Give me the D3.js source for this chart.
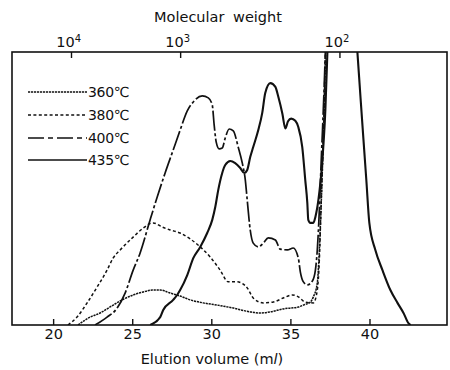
<!DOCTYPE html>
<html>
    <head>
        <meta charset="utf-8">
        <title>Elution curves</title>
        <script src="https://d3js.org/d3.v7.min.js" charset="utf-8"></script>
        <style>
            body { margin: 0; background: #fff; }
            text { font-family: "DejaVu Sans", sans-serif; fill: #111; }
        </style>
    </head>
    <body>
        <script>
            var width = 450;
            var height = 370;
            var margin = {top: 52, right: 3, bottom: 45, left: 12};

            // elution volume (ml), relative detector response (top of frame = 100)
            var s360 = [[21.58,0],[22.34,2.9],[22.97,4.4],[23.60,6.6],[24.36,9.2],[25.06,11.0],[25.69,12.1],
                [26.26,12.8],[26.77,12.8],[27.40,11.7],[28.03,10.6],[28.67,9.2],[29.49,8.1],[30.37,7.3],
                [31.39,6.2],[32.46,4.8],[33.10,4.4],[33.73,4.8],[34.55,5.9],[35.50,6.6],[35.82,7.3],
                [36.26,8.4],[36.45,10.3],[36.70,15.4],[36.80,24],[36.92,40],[37.08,67.8],[37.24,100],[37.45,135]];

            var s380 = [[20.94,0],[21.51,2.9],[22.15,8.1],[22.78,13.9],[23.41,20.1],[23.79,24.5],[24.24,27.5],
                [25.06,32.2],[25.69,35.5],[26.32,37.4],[26.89,35.9],[27.40,34.8],[28.03,33.7],[28.67,31.5],
                [29.30,28.6],[29.93,24.9],[30.56,20.1],[31.07,15.8],[31.64,15.8],[32.27,13.6],[32.65,9.9],
                [33.29,8.1],[33.92,8.4],[34.55,9.9],[35.12,11.0],[35.50,10.3],[35.94,8.4],[36.45,8.1],
                [36.70,12.8],[36.83,23.8],[36.95,45.8],[37.08,67.8],[37.21,100],[37.4,135]];

            var s400 = [[22.65,0],[23.41,2.9],[24.05,6.2],[24.55,11.7],[25.06,20.1],[25.50,26.4],[26.13,38.5],
                [26.58,46.9],[27.08,55.7],[27.59,64.1],[28.03,71.4],[28.48,78.4],[28.86,81.7],[29.43,83.9],
                [29.81,83.2],[30.06,80.6],[30.18,73.3],[30.31,67.0],[30.50,64.5],[30.69,64.8],[30.88,68.5],
                [31.13,71.8],[31.39,71.1],[31.70,65.2],[31.96,59.3],[32.15,53.1],[32.27,45.8],[32.46,34.8],
                [32.65,30.0],[32.97,28.6],[33.29,30.0],[33.60,31.9],[34.05,31.1],[34.36,27.8],[34.81,27.5],
                [35.18,28.2],[35.50,24.5],[35.63,19.4],[35.82,15.8],[36.07,14.7],[36.39,16.1],[36.58,20.1],
                [36.70,27.5],[36.83,42.1],[36.95,60.4],[37.08,78.8],[37.21,100],[37.4,135]];

            var s435 = [[26.13,0],[26.77,2.9],[26.96,5.5],[27.59,9.2],[27.84,11.0],[28.03,12.8],[28.48,18.3],
                [28.86,24.5],[29.30,28.6],[29.74,33.7],[30.06,38.5],[30.25,43.2],[30.44,49.5],[30.69,55.7],
                [30.88,58.6],[31.20,60.1],[31.51,59.3],[31.83,57.5],[32.08,55.7],[32.27,56.8],[32.46,61.5],
                [32.65,65.2],[32.97,71.4],[33.22,77.7],[33.41,85.0],[33.73,88.6],[34.05,87.2],[34.24,83.5],
                [34.49,77.5],[34.68,72.0],[34.85,74.6],[35.05,75.6],[35.31,74.8],[35.50,72.5],[35.75,65.2],[35.94,53.1],
                [36.07,44.7],[36.13,38.5],[36.26,37.4],[36.45,37.4],[36.58,39.6],[36.77,45.8],[37.02,60.4],
                [37.21,78.8],[37.34,100],[38.3,170],[39.24,99.6],[39.43,83.5],[39.62,67.8],[39.80,53.1],
                [39.99,37.4],[40.37,27.5],[40.82,20.1],[41.32,12.8],[41.77,8.1],[42.15,4.4],[42.46,0.7],[42.6,0]];

            var series = [
                {name: "360", values: s360, dash: "2.2,0.8", w: 1.5},
                {name: "380", values: s380, dash: "3,2.4", w: 1.5},
                {name: "400", values: s400, dash: "20,2.5,3,2.5", w: 1.7},
                {name: "435", values: s435, dash: null, w: 2.1}
            ];

            var volumeTicks = [20, 25, 30, 35, 40];
            var mwTicks = [1e4, 1e3, 1e2];
            var mwExponents = ["4", "3", "2"];
            var mwVolume = [21.13, 28.03, 38.1]; // calibration: elution volume of each MW

            var x = d3.scaleLinear()
                        .domain([17.4, 44.9])
                        .range([margin.left, width - margin.right]);

            var y = d3.scaleLinear()
                        .domain([0, 100])
                        .range([height - margin.bottom, margin.top]);

            var mw = d3.scaleLog()
                        .domain(mwTicks)
                        .range(mwVolume.map(function(v) { return x(v); }));

            var svg = d3.select("body").append("svg")
                        .attr("width", width)
                        .attr("height", height);

            svg.append("clipPath").attr("id", "plot")
                .append("rect")
                    .attr("x", x.range()[0])
                    .attr("y", y(100))
                    .attr("width", x.range()[1] - x.range()[0])
                    .attr("height", y(0) - y(100));

            var line = d3.line()
                        .x(function(d) { return x(d[0]); })
                        .y(function(d) { return y(d[1]); })
                        .curve(d3.curveMonotoneX);

            svg.append("g")
                .attr("clip-path", "url(#plot)")
                .selectAll("path")
                .data(series)
                .enter()
                .append("path")
                    .attr("fill", "none")
                    .attr("stroke", "#111")
                    .attr("stroke-width", function(d) { return d.w; })
                    .attr("stroke-dasharray", function(d) { return d.dash; })
                    .attr("d", function(d) { return line(d.values); });

            // frame
            svg.append("rect")
                .attr("x", x.range()[0])
                .attr("y", y(100))
                .attr("width", x.range()[1] - x.range()[0])
                .attr("height", y(0) - y(100))
                .attr("fill", "none")
                .attr("stroke", "#111")
                .attr("stroke-width", 1.6);

            svg.append("g")
                .attr("transform", "translate(0," + y(0) + ")")
                .call(d3.axisBottom(x).tickValues(volumeTicks).tickSizeInner(-6).tickSizeOuter(0).tickPadding(4));

            var topAxis = svg.append("g")
                .attr("transform", "translate(0," + y(100) + ")")
                .call(d3.axisTop(mw).tickValues(mwTicks).tickSizeInner(-6).tickSizeOuter(0).tickPadding(5)
                    .tickFormat(function() { return "10"; }));

            topAxis.selectAll(".tick text")
                .attr("dx", "-0.2em")
                .append("tspan")
                    .attr("dy", "-0.55em")
                    .style("font-size", "10px")
                    .text(function(d, i) { return mwExponents[i]; });

            svg.selectAll(".domain").remove();
            svg.selectAll(".tick line").attr("stroke", "#111").attr("stroke-width", 1.4);
            svg.selectAll(".tick text").style("font-family", "DejaVu Sans").style("font-size", "14.5px").attr("fill", "#111");

            svg.append("text")
                .attr("x", 218)
                .attr("y", 22)
                .attr("text-anchor", "middle")
                .style("font-size", "14.5px")
                .style("word-spacing", "4px")
                .text("Molecular weight");

            var xl = svg.append("text")
                .attr("x", 212)
                .attr("y", 364)
                .attr("text-anchor", "middle")
                .style("font-size", "14.5px");
            xl.append("tspan").text("Elution volume (m");
            xl.append("tspan").style("font-style", "italic").text("l");
            xl.append("tspan").text(")");

            // legend
            var legend = svg.selectAll("g.legend")
                .data(series)
                .enter()
                .append("g")
                    .attr("class", "legend")
                    .attr("transform", function(d, i) { return "translate(28," + [92, 115, 138, 160][i] + ")"; });

            legend.append("line")
                .attr("x1", 0).attr("x2", 59)
                .attr("stroke", "#111")
                .attr("stroke-width", function(d) { return Math.min(d.w, 1.6); })
                .attr("stroke-dasharray", function(d, i) { return i === 2 ? "16,4,5,4" : d.dash; });

            legend.append("text")
                .attr("x", 60)
                .attr("dy", "0.36em")
                .style("font-size", "14px")
                .style("letter-spacing", "-0.3px")
                .text(function(d) { return d.name + "℃"; });
        </script>
    </body>
</html>
